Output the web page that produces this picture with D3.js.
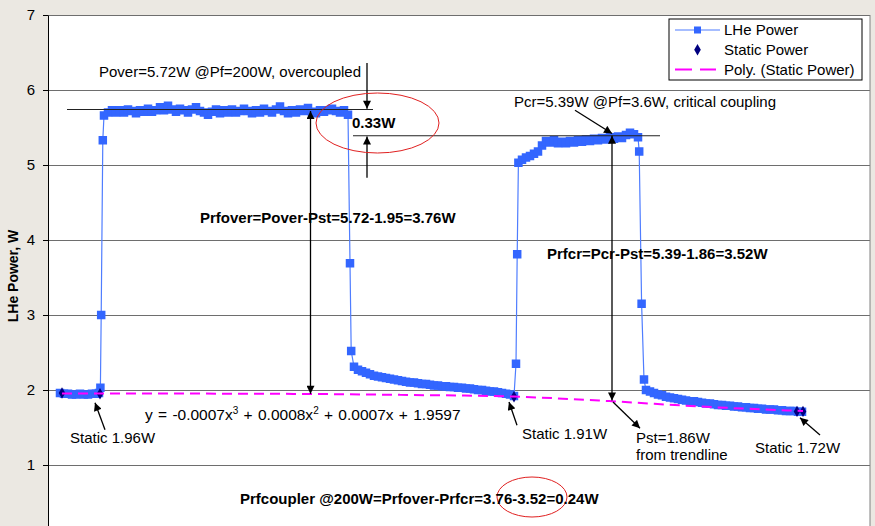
<!DOCTYPE html>
<html>
<head>
<meta charset="utf-8">
<script src="https://cdn.jsdelivr.net/npm/d3@7"></script>
<style>
  body { margin: 0; background: #ebe8e2; }
  svg { display: block; font-family: Arial, "Liberation Sans", sans-serif; }
</style>
</head>
<body>
<svg id="chart" width="875" height="526"></svg>
<script>
// LHe power trace (time in arbitrary sample units, power in W)
var lheTime = [
  6, 8, 10, 12, 14, 16, 18, 20, 22, 24, 25.5,
  26.2, 26.6, 27.4,
  28, 30, 32, 34, 36, 38, 40, 42, 44, 46,
  48, 50, 52, 54, 56, 58, 60, 62, 64, 66,
  68, 70, 72, 74, 76, 78, 80, 82, 84, 86,
  88, 90, 92, 94, 96, 98, 100, 102, 104, 106,
  108, 110, 112, 114, 116, 118, 120, 122, 124, 126,
  128, 130, 132, 134, 136, 138, 140, 142, 144, 146,
  148, 150,
  151, 151.6, 153,
  155, 157, 159, 161, 163, 165, 167, 169, 171, 173,
  175, 177, 179, 181, 183, 185, 187, 189, 191, 193,
  195, 197, 199, 201, 203, 205, 207, 209, 211, 213,
  215, 217, 219, 221, 223, 225, 227, 229, 231, 233,
  234, 234.6, 235.2,
  237, 239, 241, 243, 245, 247, 249, 251, 253, 255,
  257, 259, 261, 263, 265, 267, 269, 271, 273, 275,
  277, 279, 281, 283, 285, 287, 289, 291, 293, 295,
  295.6, 296.8, 298,
  299, 301, 303, 305, 307, 309, 311, 313, 315, 317, 319,
  321, 323, 325, 327, 329, 331, 333, 335, 337, 339,
  341, 343, 345, 347, 349, 351, 353, 355, 357, 359,
  361, 363, 365, 367, 369, 371, 373, 375, 377
];
var lhePower = [
  1.96, 1.95, 1.95, 1.94, 1.94, 1.95, 1.94, 1.94, 1.95, 1.95, 1.96,
  2.03, 3.00, 5.33,
  5.66, 5.70, 5.73, 5.70, 5.73, 5.70, 5.74, 5.72, 5.69, 5.73,
  5.71, 5.75, 5.71, 5.73, 5.77, 5.73, 5.79, 5.74, 5.71, 5.75,
  5.73, 5.70, 5.74, 5.77, 5.72, 5.70, 5.67, 5.71, 5.74, 5.69,
  5.73, 5.70, 5.74, 5.70, 5.72, 5.75, 5.72, 5.69, 5.73, 5.70,
  5.75, 5.72, 5.70, 5.74, 5.78, 5.72, 5.69, 5.73, 5.70, 5.74,
  5.72, 5.76, 5.71, 5.69, 5.73, 5.71, 5.73, 5.75, 5.72, 5.70,
  5.73, 5.67,
  3.69, 2.52, 2.31,
  2.27, 2.25, 2.23, 2.21, 2.19, 2.18, 2.17, 2.16, 2.15, 2.14,
  2.13, 2.12, 2.11, 2.10, 2.10, 2.09, 2.08, 2.08, 2.07, 2.06,
  2.06, 2.05, 2.05, 2.04, 2.04, 2.03, 2.03, 2.02, 2.02, 2.01,
  2.00, 2.00, 1.99, 1.98, 1.98, 1.97, 1.96, 1.95, 1.94, 1.92,
  2.35, 3.81, 5.03,
  5.07, 5.10, 5.12, 5.15, 5.18, 5.26, 5.32, 5.30, 5.33, 5.29,
  5.31, 5.29, 5.32, 5.30, 5.33, 5.31, 5.34, 5.32, 5.35, 5.33,
  5.36, 5.34, 5.37, 5.35, 5.38, 5.36, 5.40, 5.43, 5.41, 5.37,
  5.18, 3.15, 2.14,
  2.00, 1.98, 1.96, 1.94, 1.93, 1.91, 1.90, 1.89, 1.88, 1.87, 1.86,
  1.85, 1.85, 1.84, 1.83, 1.82, 1.82, 1.81, 1.80, 1.80, 1.79,
  1.79, 1.78, 1.78, 1.77, 1.77, 1.76, 1.76, 1.75, 1.75, 1.74,
  1.74, 1.74, 1.73, 1.73, 1.72, 1.72, 1.72, 1.71, 1.71
];

// static power points
var staticTime = [7, 26, 233, 374.5, 377.5];
var staticPower = [1.96, 1.95, 1.91, 1.715, 1.715];

// polynomial trendline of the static power
var trendTime = [7, 76, 131, 176, 233, 282, 326, 377.5];
var trendPower = [1.955, 1.952, 1.947, 1.935, 1.912, 1.85, 1.78, 1.72];

var yTicks = [1, 2, 3, 4, 5, 6, 7];
var legendLabels = ["LHe Power", "Static Power", "Poly. (Static Power)"];

var blue = "#3366ff", navy = "#000080", magenta = "#ff00ff";
var fontSize = 15;
var mk = 8.5; // marker size

var svg = d3.select("#chart");
var pLeft = 48, pRight = 870, pTop = 15, pBottom = 540;

var x = d3.scaleLinear().domain([0, 411]).range([pLeft, pRight]);
var y = d3.scaleLinear().domain([0, 7]).range([pBottom, pTop]);

// plot area
svg.append("rect").attr("x", pLeft).attr("y", pTop)
  .attr("width", pRight - pLeft).attr("height", pBottom - pTop)
  .attr("fill", "#fff");

// gridlines
svg.append("g").attr("transform", "translate(" + pLeft + ",0)")
  .call(d3.axisLeft(y).tickValues(yTicks).tickSize(-(pRight - pLeft)).tickFormat(""))
  .call(function (g) { g.select(".domain").remove(); })
  .selectAll("line").attr("stroke", "#6e6e6e");

svg.append("line").attr("x1", pRight).attr("x2", pRight).attr("y1", pTop).attr("y2", pBottom)
  .attr("stroke", "#808080");

// y axis
var yAxis = svg.append("g").attr("transform", "translate(" + pLeft + ",0)")
  .call(d3.axisLeft(y).tickValues(yTicks).tickFormat(d3.format("d"))
    .tickSize(5).tickPadding(8).tickSizeOuter(0));
yAxis.select(".domain").attr("stroke", "#000");
yAxis.selectAll("line").attr("stroke", "#000");
yAxis.selectAll("text").attr("font-size", 15).attr("fill", "#000")
  .attr("font-family", "Arial, 'Liberation Sans', sans-serif");

svg.append("text")
  .attr("transform", "translate(13,276) rotate(-90)")
  .attr("text-anchor", "middle").attr("dy", "0.35em")
  .attr("font-size", 14).attr("font-weight", "bold")
  .text("LHe Power, W");

// LHe series
var lheData = lheTime.map(function (t, i) { return { t: t, v: lhePower[i] }; });
svg.append("path").datum(lheData)
  .attr("fill", "none").attr("stroke", "#4f7dff").attr("stroke-width", 1.2)
  .attr("d", d3.line().x(function (d) { return x(d.t); }).y(function (d) { return y(d.v); }));
svg.append("g").selectAll("rect").data(lheData).enter().append("rect")
  .attr("x", function (d) { return x(d.t) - mk / 2; })
  .attr("y", function (d) { return y(d.v) - mk / 2; })
  .attr("width", mk).attr("height", mk)
  .attr("fill", blue);

// static series
var staticData = staticTime.map(function (t, i) { return { t: t, v: staticPower[i] }; });
svg.append("g").selectAll("path").data(staticData).enter().append("path")
  .attr("transform", function (d) { return "translate(" + x(d.t) + "," + y(d.v) + ")"; })
  .attr("d", d3.symbol().type(d3.symbolDiamond).size(38))
  .attr("fill", navy);

// trendline
var trendData = trendTime.map(function (t, i) { return { t: t, v: trendPower[i] }; });
svg.append("path").datum(trendData)
  .attr("fill", "none").attr("stroke", magenta).attr("stroke-width", 2)
  .attr("stroke-dasharray", "10,6")
  .attr("d", d3.line().curve(d3.curveMonotoneX)
    .x(function (d) { return x(d.t); }).y(function (d) { return y(d.v); }));

// arrowhead marker
svg.append("defs").append("marker")
  .attr("id", "ah").attr("viewBox", "0 0 10 10")
  .attr("refX", 10).attr("refY", 5)
  .attr("markerWidth", 9).attr("markerHeight", 8)
  .attr("markerUnits", "userSpaceOnUse")
  .attr("orient", "auto-start-reverse")
  .append("path").attr("d", "M0,0 L10,5 L0,10 z").attr("fill", "#000");

var ann = svg.append("g");

function hline(v, t0, t1, color) {
  ann.append("line").attr("x1", x(t0)).attr("x2", x(t1))
    .attr("y1", y(v)).attr("y2", y(v))
    .attr("stroke", color || "#222").attr("stroke-width", 1);
}
function arrow(t0, v0, t1, v1, both) {
  var l = ann.append("line").attr("x1", x(t0)).attr("y1", y(v0))
    .attr("x2", x(t1)).attr("y2", y(v1))
    .attr("stroke", "#000").attr("stroke-width", 1.3)
    .attr("marker-end", "url(#ah)");
  if (both) l.attr("marker-start", "url(#ah)");
}
function label(px, py, txt, bold) {
  return ann.append("text").attr("x", px).attr("y", py)
    .attr("font-size", fontSize).attr("font-weight", bold ? "bold" : "normal")
    .attr("fill", "#000").text(txt);
}

// reference levels
hline(5.74, 9.5, 162.5);
hline(5.39, 152.5, 306);

arrow(159.5, 6.36, 159.5, 5.75);
arrow(159.5, 4.83, 159.5, 5.38);
arrow(131.25, 5.72, 131.25, 1.95, true);
arrow(282, 5.39, 282, 1.86, true);
arrow(263.5, 5.73, 282, 5.42);
arrow(282.5, 1.84, 296, 1.49);
arrow(28.5, 1.47, 23.5, 1.83);
arrow(234.5, 1.53, 230.5, 1.84);
arrow(386, 1.40, 376, 1.63);

ann.append("ellipse").attr("cx", 377.5).attr("cy", 123).attr("rx", 61.5).attr("ry", 30)
  .attr("fill", "none").attr("stroke", "#e02020").attr("stroke-width", 1);
ann.append("ellipse").attr("cx", 532).attr("cy", 497).attr("rx", 35).attr("ry", 20)
  .attr("fill", "none").attr("stroke", "#e02020").attr("stroke-width", 1);

label(99, 77, "Pover=5.72W @Pf=200W, overcoupled");
label(352, 128, "0.33W", true);
label(200, 223, "Prfover=Pover-Pst=5.72-1.95=3.76W", true);
label(514, 107, "Pcr=5.39W @Pf=3.6W, critical coupling");
label(547, 259, "Prfcr=Pcr-Pst=5.39-1.86=3.52W", true);
label(70, 443, "Static 1.96W");
label(522, 439, "Static 1.91W");
label(636, 443, "Pst=1.86W");
label(636, 460, "from trendline");
label(755, 453, "Static 1.72W");
label(240, 504, "Prfcoupler @200W=Prfover-Prfcr=3.76-3.52=0.24W", true);

var eq = label(145, 420, "y = -0.0007x").attr("font-size", 15.5).attr("word-spacing", 1);
eq.append("tspan").attr("dy", -6).attr("font-size", 10).text("3");
eq.append("tspan").attr("dy", 6).text(" + 0.0008x");
eq.append("tspan").attr("dy", -6).attr("font-size", 10).text("2");
eq.append("tspan").attr("dy", 6).text(" + 0.0007x + 1.9597");

// legend
var lg = svg.append("g");
lg.append("rect").attr("x", 669).attr("y", 19).attr("width", 193).attr("height", 61)
  .attr("fill", "#fff").attr("stroke", "#000");
var rows = lg.selectAll("g.row").data(legendLabels).enter().append("g")
  .attr("class", "row")
  .attr("transform", function (d, i) { return "translate(0," + (30 + i * 19.7) + ")"; });
rows.append("text").attr("x", 724).attr("y", 0).attr("dy", "0.36em")
  .attr("font-size", fontSize).text(function (d) { return d; });
var r0 = rows.filter(function (d, i) { return i === 0; });
r0.append("line").attr("x1", 675).attr("x2", 720).attr("stroke", "#4f7dff").attr("stroke-width", 1.2);
r0.append("rect").attr("x", 694).attr("y", -3.5).attr("width", 7).attr("height", 7).attr("fill", blue);
rows.filter(function (d, i) { return i === 1; }).append("path")
  .attr("transform", "translate(697.5,0)")
  .attr("d", d3.symbol().type(d3.symbolDiamond).size(38)).attr("fill", navy);
rows.filter(function (d, i) { return i === 2; }).append("line")
  .attr("x1", 675).attr("x2", 716).attr("stroke", magenta).attr("stroke-width", 2)
  .attr("stroke-dasharray", "17,8");
</script>
</body>
</html>
